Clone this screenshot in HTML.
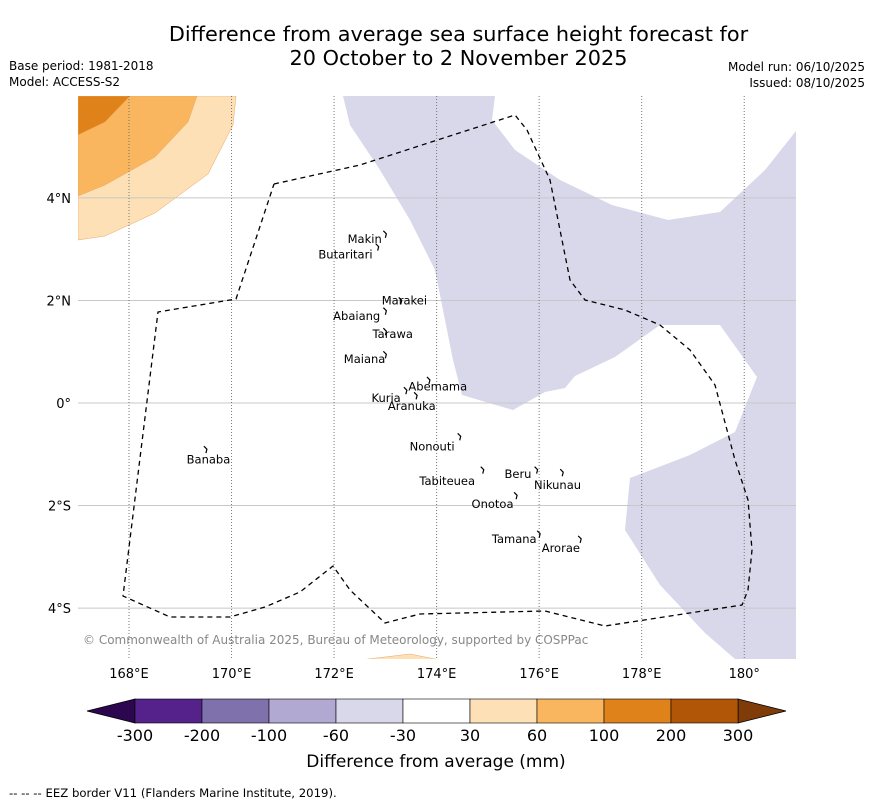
<!DOCTYPE html>
<html><head><meta charset="utf-8"><style>
body{margin:0;width:873px;height:804px;background:#fff;font-family:"Liberation Sans","DejaVu Sans",sans-serif;overflow:hidden;position:relative}
.t{position:absolute;white-space:nowrap;color:#000}
</style></head><body>
<div class="t" style="left:0;width:917px;top:22px;text-align:center;font-size:20.8px;line-height:24px;font-family:'DejaVu Sans',sans-serif">Difference from average sea surface height forecast for<br>20 October to 2 November 2025</div>
<div class="t" style="left:9px;top:59px;font-size:12px;font-family:'DejaVu Sans',sans-serif">Base period: 1981-2018</div>
<div class="t" style="left:9px;top:75px;font-size:12px;font-family:'DejaVu Sans',sans-serif">Model: ACCESS-S2</div>
<div class="t" style="right:8px;top:60px;font-size:12px;font-family:'DejaVu Sans',sans-serif">Model run: 06/10/2025</div>
<div class="t" style="right:8px;top:76px;font-size:12px;font-family:'DejaVu Sans',sans-serif">Issued: 08/10/2025</div>
<svg id="c" width="873" height="804" style="position:absolute;left:0;top:0" font-family="DejaVu Sans, sans-serif"></svg>
<script>
const lonTicks=[168,170,172,174,176,178,180];
const lonLabels=["168°E","170°E","172°E","174°E","176°E","178°E","180°"];
const latTicks=[4,2,0,-2,-4];
const latLabels=["4°N","2°N","0°","2°S","4°S"];
const cbBounds=["-300","-200","-100","-60","-30","30","60","100","200","300"];
const cbColors=["#54228a","#7f71ab","#b1a9d1","#d8d8ea","#ffffff","#fde0b5","#f9b65f","#e0821a","#b15606"];
// name, island lon, lat, label anchor lon, lat, anchor side
const islands=[["Makin",173.0,3.3,172.93,3.2,"end"],["Butaritari",172.85,3.05,172.75,2.9,"end"],["Marakei",173.3,2.0,172.93,2.0,"start"],["Abaiang",173.0,1.8,172.9,1.7,"end"],["Tarawa",173.0,1.4,172.75,1.35,"start"],["Maiana",173.0,0.95,173.0,0.86,"end"],["Abemama",173.85,0.45,173.45,0.32,"start"],["Kuria",173.4,0.25,173.3,0.1,"end"],["Aranuka",173.6,0.15,173.05,-0.06,"start"],["Nonouti",174.45,-0.65,174.35,-0.85,"end"],["Banaba",169.5,-0.9,169.55,-1.1,"middle"],["Beru",175.95,-1.3,175.85,-1.38,"end"],["Nikunau",176.45,-1.35,175.9,-1.6,"start"],["Tabiteuea",174.9,-1.3,174.75,-1.52,"end"],["Onotoa",175.55,-1.8,175.5,-1.97,"end"],["Tamana",176.0,-2.55,175.95,-2.65,"end"],["Arorae",176.8,-2.65,176.05,-2.83,"start"]];
const X=lon=>129+(lon-168)*51.27, Y=lat=>403-lat*51.27;
const s=document.getElementById('c'),NS="http://www.w3.org/2000/svg";
function el(t,a,p){const e=document.createElementNS(NS,t);for(const k in a)e.setAttribute(k,a[k]);(p||s).appendChild(e);return e;}
const g=el('g',{});


el('defs',{}).innerHTML='<clipPath id="cp"><rect x="78" y="96" width="718" height="563"/></clipPath>';
const m=el('g',{'clip-path':'url(#cp)'},g);
const P=(pts,fill,name)=>{const e=el('polygon',{points:pts,fill:fill,stroke:fill==='#d8d8ea'?'none':'#e8a860','stroke-width':0.5},m);};
P("78,240 105,236 155,213 208,174 233,125 236,96 78,96","#fde0b5","anomaly-30-60");
P("78,196 105,185 155,157 188,122 197,96 78,96","#f9b65f","anomaly-60-100");
P("78,135 105,122 130,96 78,96","#e0821a","anomaly-100-200");
P("360,660 410,654 440,660","#fde0b5","anomaly-south-30-60");
P("343,96 495,96 492,120 515,150 560,180 612,205 668,220 720,212 765,170 796,131 796,659 735,659 705,633 660,585 625,530 630,478 690,455 735,432 757,377 720,325 660,325 615,357 575,376 565,388 545,392 513,410 462,395 453,360 445,320 435,270 410,220 380,170 350,125","#d8d8ea","anomaly-neg-30-60");
latTicks.forEach((v,i)=>{const y=Y(v);const l=el('line',{x1:78,x2:796,y1:y,y2:y,stroke:'#c8c8c8','stroke-width':1},g);
const t=el('text',{x:71,y:y+5,'text-anchor':'end','font-size':13},g);t.textContent=latLabels[i];});
lonTicks.forEach((v,i)=>{const x=X(v);const l=el('line',{x1:x,x2:x,y1:96,y2:659,stroke:'#777','stroke-width':1,'stroke-dasharray':'1,2'},g);
const t=el('text',{x:x,y:678,'text-anchor':'middle','font-size':13},g);t.textContent=lonLabels[i];});
const eez=el('polyline',{points:"274,184 360,165 515,115 527,130 550,180 570,280 585,300 625,310 660,325 690,350 715,385 735,460 748,500 752,550 748,590 742,605 605,626 545,611 420,614 385,623 350,590 333,566 300,592 265,607 230,617 170,617 123,596 158,312 236,299 274,184",fill:'none',stroke:'#000','stroke-width':1.3,'stroke-dasharray':'5,4'},g);

islands.forEach(d=>{const x=X(d[1]),y=Y(d[2]);const r=el('path',{d:`M${x-2},${y-3} l3,3 l-1,4`,fill:'none',stroke:'#000','stroke-width':1.2},g);
const t=el('text',{x:X(d[3]),y:Y(d[4])+4,'text-anchor':d[5],'font-size':11.5},g);t.textContent=d[0];});
const cr=el('text',{x:83,y:644,'font-size':12,fill:'#888'},g);cr.textContent="© Commonwealth of Australia 2025, Bureau of Meteorology, supported by COSPPac";
const cb=el('g',{});
const cx0=135,cx1=738,cy=699,ch=24,w=(cx1-cx0)/cbColors.length;
const lt=el('polygon',{points:`${cx0},${cy} 87,${cy+ch/2} ${cx0},${cy+ch}`,fill:'#2d0650',stroke:'#000','stroke-width':0.8},cb);
const rt=el('polygon',{points:`${cx1},${cy} 786,${cy+ch/2} ${cx1},${cy+ch}`,fill:'#7f3b08',stroke:'#000','stroke-width':0.8},cb);
cbColors.forEach((c,i)=>{const r=el('rect',{x:cx0+i*w,y:cy,width:w,height:ch,fill:c,stroke:'#000','stroke-width':0.6},cb);});
cbBounds.forEach((b,i)=>{const t=el('text',{x:cx0+i*w,y:741,'text-anchor':'middle','font-size':16},cb);t.textContent=b;});
const ct=el('text',{x:436,y:767,'text-anchor':'middle','font-size':17},cb);ct.textContent="Difference from average (mm)";
const ft=el('text',{x:9,y:797,'font-size':11.7},s);ft.textContent="--  --  -- EEZ border V11 (Flanders Marine Institute, 2019).";
</script>
</body></html>
